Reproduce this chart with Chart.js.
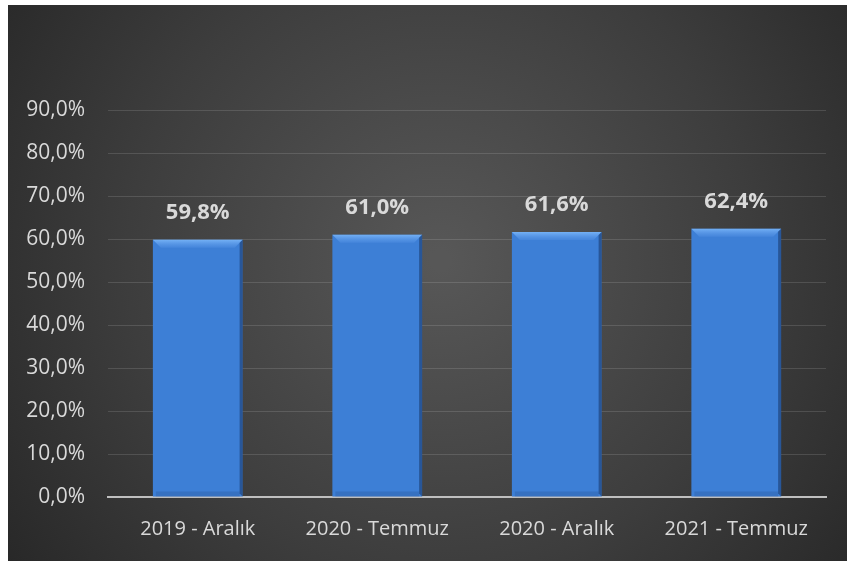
<!DOCTYPE html>
<html>
<head>
<meta charset="utf-8">
<script src="https://cdn.jsdelivr.net/npm/chart.js@4"></script>
<style>
  html, body { margin: 0; padding: 0; background: #fff; }
  #wrap { width: 847px; height: 561px; position: relative; }
</style>
</head>
<body>
<div id="wrap"><canvas id="grafico"></canvas></div>
<script>
// -------------------------
// Dados
// -------------------------
const periodos = ["2019 - Aralık", "2020 - Temmuz", "2020 - Aralık", "2021 - Temmuz"];
const oranlar = [59.8, 61.0, 61.6, 62.4];
const eixoMax = 90;
const eixoPasso = 10;

const FONTE = "'Open Sans', 'Liberation Sans', sans-serif";
const COR_TEXTO = "#d9d9d9";

function formatarPct(v) {
  return v.toFixed(1).replace(".", ",") + "%";
}

// fundo escuro com gradiente radial
const fundoPlugin = {
  id: "fundo",
  beforeDraw(chart) {
    const ctx = chart.ctx;
    ctx.save();
    ctx.fillStyle = "#ffffff";
    ctx.fillRect(0, 0, chart.width, chart.height);
    const x0 = 8, y0 = 5, w = chart.width - 8, h = chart.height - 5;
    const g = ctx.createRadialGradient(440, 260, 10, 440, 260, 560);
    g.addColorStop(0, "#575757");
    g.addColorStop(0.55, "#3d3d3d");
    g.addColorStop(1, "#252525");
    ctx.fillStyle = g;
    ctx.fillRect(x0, y0, w, h);
    ctx.restore();
  }
};

// bisel das barras + rótulos
const biselPlugin = {
  id: "bisel",
  afterDatasetsDraw(chart) {
    const ctx = chart.ctx;
    const meta = chart.getDatasetMeta(0);
    ctx.save();
    meta.data.forEach((bar, i) => {
      const esq = bar.x - bar.width / 2;
      const dir = bar.x + bar.width / 2;
      const topo = bar.y;
      const base = bar.base;
      const b = 8;

      // topo claro (degradê)
      const gt = ctx.createLinearGradient(0, topo, 0, topo + b);
      gt.addColorStop(0, "rgba(125,185,250,0.85)");
      gt.addColorStop(1, "rgba(95,155,235,0.25)");
      ctx.fillStyle = gt;
      ctx.beginPath();
      ctx.moveTo(esq, topo);
      ctx.lineTo(dir, topo);
      ctx.lineTo(dir - b, topo + b);
      ctx.lineTo(esq + b, topo + b);
      ctx.closePath();
      ctx.fill();

      // lado direito escuro
      ctx.fillStyle = "rgba(20,45,90,0.5)";
      ctx.beginPath();
      ctx.moveTo(dir, topo);
      ctx.lineTo(dir, base);
      ctx.lineTo(dir - 3, base - 3);
      ctx.lineTo(dir - 3, topo + 3);
      ctx.closePath();
      ctx.fill();

      // base levemente escura
      ctx.fillStyle = "rgba(20,50,100,0.18)";
      ctx.fillRect(esq + 3, base - 5, bar.width - 6, 5);

      // rótulo
      ctx.fillStyle = COR_TEXTO;
      ctx.font = "bold 22px " + FONTE;
      ctx.textAlign = "center";
      ctx.textBaseline = "middle";
      ctx.fillText(formatarPct(oranlar[i]), bar.x, topo - 27);
    });
    ctx.restore();
  }
};

const ctx = document.getElementById("grafico").getContext("2d");

new Chart(ctx, {
  type: "bar",
  data: {
    labels: periodos,
    datasets: [{
      data: oranlar,
      backgroundColor(c) {
        const el = c.element;
        if (!el || !el.width) return "#3d7fd6";
        const g = c.chart.ctx.createLinearGradient(el.x - el.width / 2, 0, el.x + el.width / 2, 0);
        g.addColorStop(0, "#4788de");
        g.addColorStop(0.5, "#3d7fd6");
        g.addColorStop(1, "#3571c6");
        return g;
      },
      borderWidth: 0,
      categoryPercentage: 1,
      barPercentage: 0.5
    }]
  },
  options: {
    responsive: true,
    maintainAspectRatio: false,
    animation: false,
    devicePixelRatio: 1,
    layout: {
      padding: { top: 110, right: 21, left: 0, bottom: 0 }
    },
    plugins: {
      legend: { display: false },
      tooltip: { enabled: false }
    },
    scales: {
      x: {
        grid: { display: false, drawTicks: false },
        border: { display: true, color: "#bfbfbf", width: 2 },
        ticks: {
          color: COR_TEXTO,
          font: { family: FONTE, size: 20 },
          padding: 20,
          maxRotation: 0
        },
        afterFit(scale) { scale.height = 64; }
      },
      y: {
        min: 0,
        max: eixoMax,
        grid: { color: "rgba(255,255,255,0.13)", lineWidth: 1, drawTicks: false },
        border: { display: false },
        ticks: {
          stepSize: eixoPasso,
          color: COR_TEXTO,
          font: { family: FONTE, size: 21 },
          padding: 23,
          callback: v => formatarPct(v)
        },
        afterFit(scale) { scale.width = 108; }
      }
    }
  },
  plugins: [fundoPlugin, biselPlugin]
});
</script>
</body>
</html>
